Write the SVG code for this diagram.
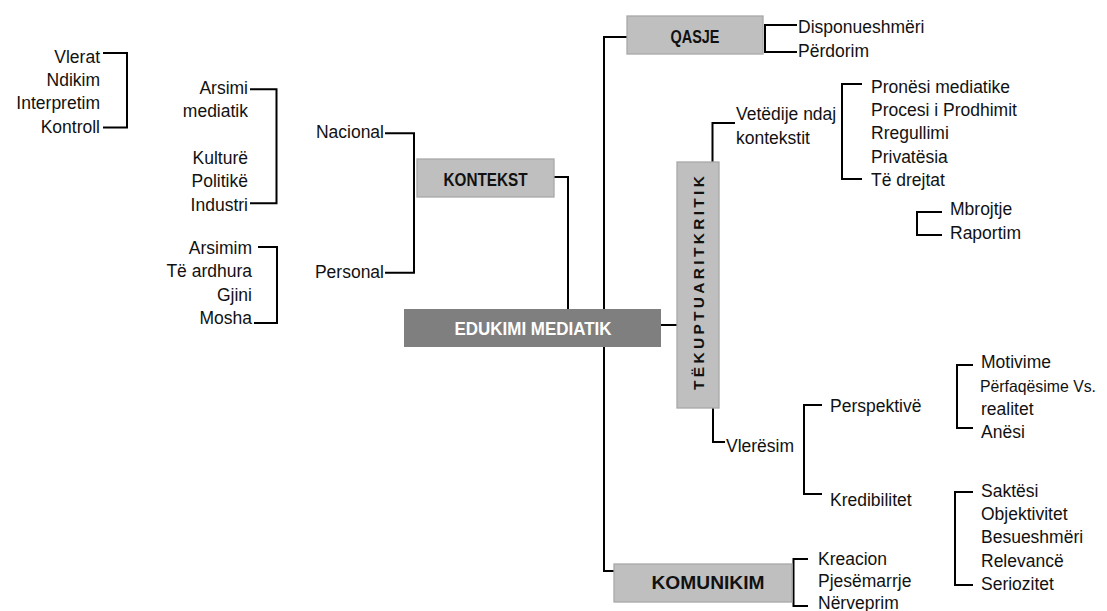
<svg xmlns="http://www.w3.org/2000/svg" width="1107" height="611" viewBox="0 0 1107 611">
<style>
.t{font-family:"Liberation Sans",Arial,sans-serif;font-size:17.5px;fill:#111}
.e{text-anchor:end}
.b{font-family:"Liberation Sans",Arial,sans-serif;font-weight:bold;font-size:18.5px;fill:#111;text-anchor:middle}
.box{fill:#bfbfbf;stroke:#a8a8a8;stroke-width:1.3}
.c{fill:none;stroke:#000;stroke-width:2}
</style>
<rect width="1107" height="611" fill="#fff"/>
<g id="connectors">
<path class="c" d="M103,53H127V127.5H103"/>
<path class="c" d="M250,89.3H276.5V203.3H250"/>
<path class="c" d="M258,247H277V323H254"/>
<path class="c" d="M385,133.3H414V272.7H385"/>
<path class="c" d="M554,177H568V309"/>
<path class="c" d="M627,37H604V571H614"/>
<path class="c" d="M661,325H677"/>
<path class="c" d="M797,25H765V52H797"/>
<path class="c" d="M712.5,162V123H735"/>
<path class="c" d="M862,84H842V179H862"/>
<path class="c" d="M942,212H917V235H942"/>
<path class="c" d="M713,408V442H725"/>
<path class="c" d="M822,405H804V494H822"/>
<path class="c" d="M973,365H957V428H973"/>
<path class="c" d="M973,492H955V585H973"/>
<path class="c" d="M808,559H793.5V606H808"/>
</g>
<g id="n-vlerat-list">
<text class="t e" x="100" y="62.7">Vlerat</text>
<text class="t e" x="100" y="86">Ndikim</text>
<text class="t e" x="100" y="109.3">Interpretim</text>
<text class="t e" x="100" y="132.6">Kontroll</text>
</g>
<g id="n-nacional-list">
<text class="t e" x="248" y="94">Arsimi</text>
<text class="t e" x="248" y="117.3">mediatik</text>
<text class="t e" x="248" y="164">Kulturë</text>
<text class="t e" x="248" y="187.3">Politikë</text>
<text class="t e" x="248" y="210.7">Industri</text>
</g>
<g id="n-personal-list">
<text class="t e" x="252" y="253.5">Arsimim</text>
<text class="t e" x="252" y="277">Të ardhura</text>
<text class="t e" x="252" y="300.5">Gjini</text>
<text class="t e" x="252" y="324">Mosha</text>
</g>
<g id="n-nacional"><text class="t e" x="384" y="138.3">Nacional</text></g>
<g id="n-personal"><text class="t e" x="384" y="277.5">Personal</text></g>
<g id="n-kontekst">
<rect class="box" x="417" y="159" width="137" height="38"/>
<text class="b" x="485.5" y="185.5" textLength="84" lengthAdjust="spacingAndGlyphs">KONTEKST</text>
</g>
<g id="n-edukimi">
<rect x="404" y="309" width="257" height="38" fill="#7f7f7f"/>
<text class="b" x="533" y="334.5" style="fill:#fff" textLength="157" lengthAdjust="spacingAndGlyphs">EDUKIMI MEDIATIK</text>
</g>
<g id="n-qasje">
<rect class="box" x="627" y="16" width="136" height="38"/>
<text class="b" x="695" y="42.5" textLength="49" lengthAdjust="spacingAndGlyphs">QASJE</text>
</g>
<g id="n-qasje-list">
<text class="t" x="798" y="33.3">Disponueshmëri</text>
<text class="t" x="798" y="56.5">Përdorim</text>
</g>
<g id="n-tekuptuarit">
<rect class="box" x="677" y="162" width="42" height="246"/>
<text transform="translate(698,390) rotate(-90)" x="0" y="5.6" style="font-family:'Liberation Sans',Arial,sans-serif;font-weight:bold;font-size:15.5px;fill:#111;letter-spacing:3.3px;word-spacing:-7.6px">TË KUPTUARIT KRITIK</text>
</g>
<g id="n-vetedije">
<text class="t" x="736" y="120">Vetëdije ndaj</text>
<text class="t" x="736" y="144">kontekstit</text>
</g>
<g id="n-vetedije-list">
<text class="t" x="871" y="92.5">Pronësi mediatike</text>
<text class="t" x="871" y="116">Procesi i Prodhimit</text>
<text class="t" x="871" y="139.3">Rregullimi</text>
<text class="t" x="871" y="162.6">Privatësia</text>
<text class="t" x="871" y="186">Të drejtat</text>
</g>
<g id="n-mbrojtje-list">
<text class="t" x="950" y="215">Mbrojtje</text>
<text class="t" x="950" y="238.5">Raportim</text>
</g>
<g id="n-vleresim"><text class="t" x="726" y="451.7">Vlerësim</text></g>
<g id="n-perspektive"><text class="t" x="830" y="411.7">Perspektivë</text></g>
<g id="n-kredibilitet"><text class="t" x="830" y="506">Kredibilitet</text></g>
<g id="n-perspektive-list">
<text class="t" x="981" y="368.3">Motivime</text>
<text class="t" x="980" y="391.7" style="font-size:16.5px" textLength="116" lengthAdjust="spacingAndGlyphs">Përfaqësime Vs.</text>
<text class="t" x="981" y="415">realitet</text>
<text class="t" x="981" y="438.3">Anësi</text>
</g>
<g id="n-kredibilitet-list">
<text class="t" x="981" y="496.7">Saktësi</text>
<text class="t" x="981" y="520">Objektivitet</text>
<text class="t" x="981" y="543.3">Besueshmëri</text>
<text class="t" x="981" y="566.7">Relevancë</text>
<text class="t" x="981" y="590">Seriozitet</text>
</g>
<g id="n-komunikim">
<rect class="box" x="614" y="564" width="178" height="38"/>
<text class="b" x="708" y="589" textLength="113" lengthAdjust="spacingAndGlyphs">KOMUNIKIM</text>
</g>
<g id="n-komunikim-list">
<text class="t" x="818" y="565">Kreacion</text>
<text class="t" x="818" y="587">Pjesëmarrje</text>
<text class="t" x="818" y="609">Nërveprim</text>
</g>
</svg>
